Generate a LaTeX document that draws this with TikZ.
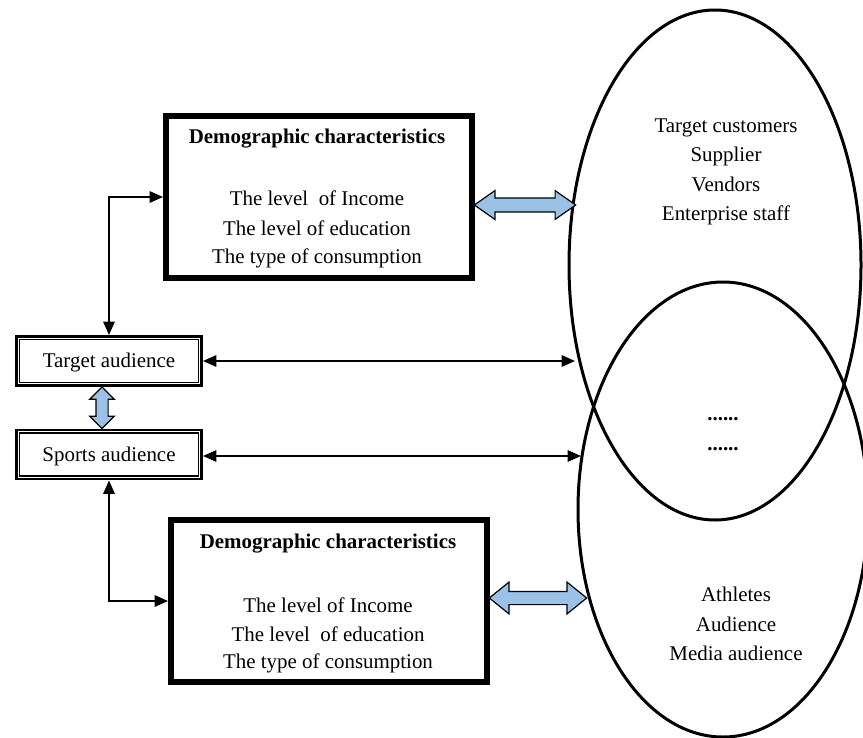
\documentclass[tikz,border=0pt]{standalone}
\usepackage{fontspec}
\setmainfont{Liberation Serif}
\usetikzlibrary{arrows.meta,shapes.geometric,shapes.arrows,calc}
\definecolor{fatblue}{RGB}{155,194,230}
\tikzset{
  txt/.style={inner sep=0pt, font=\fontsize{15.7}{22}\selectfont, align=center},
  thickbox/.style={draw, line width=4.5pt, minimum width=229.5pt, minimum height=121.5pt, inner sep=0pt},
  audbox/.style={draw, line width=2.2pt, minimum width=138.75pt, minimum height=36.75pt, inner sep=0pt,
     font=\fontsize{15.7}{22}\selectfont},
  ell/.style={draw, ellipse, line width=2.25pt, inner sep=0pt},
  conn/.style={line width=1.5pt, {Triangle[length=10pt,width=8.5pt]}-{Triangle[length=10pt,width=8.5pt]}},
  fat/.style={double arrow, draw=black, line width=0.9pt, fill=fatblue, inner sep=0pt, outer sep=0pt}
}
\begin{document}
\begin{tikzpicture}[x=0.75pt,y=-0.75pt]
\useasboundingbox (0,0) rectangle (863,738);
% ellipses
\node[ell, minimum width=219pt, minimum height=382.5pt] (E1) at (715,265) {};
\node[ell, minimum width=217.5pt, minimum height=341.25pt] (E2) at (723,509.5) {};
% boxes
\node[thickbox] (dtop) at (319,197) {};
\node[thickbox, minimum width=237pt] (dbot) at (329,601) {};
\node[audbox] (ta) at (109,361) {};
\node[audbox] (sa) at (109,454.5) {};
\draw[line width=1pt] ([shift={(3.3pt,-3.3pt)}]ta.north west) rectangle ([shift={(-3.3pt,3.3pt)}]ta.south east);
\draw[line width=1pt] ([shift={(3.3pt,-3.3pt)}]sa.north west) rectangle ([shift={(-3.3pt,3.3pt)}]sa.south east);
\node[txt] (tat) at (109,362) {Target audience};
\node[txt] (sat) at (109,456) {Sports audience};
% texts in boxes
\node[txt] (h1) at (317,139) {\textbf{Demographic characteristics}};
\node[txt] (a1) at (317,198) {The level\ \ of Income};
\node[txt] (a2) at (317,228) {The level of education};
\node[txt] (a3) at (317,258) {The type of consumption};
\node[txt] (h2) at (328,544) {\textbf{Demographic characteristics}};
\node[txt] (b1) at (328,605) {The level of Income};
\node[txt] (b2) at (328,634) {The level\ \ of education};
\node[txt] (b3) at (328,663) {The type of consumption};
% ellipse texts
\node[txt] (e1t) at (726,172) {Target customers\\Supplier\\Vendors\\Enterprise staff};
\node[txt] (dots) at (723,434) {\textbf{......}\\\textbf{......}};
\node[txt] (e2t) at (736,624) {Athletes\\Audience\\Media audience};
% connector ends on the ellipses
\coordinate (e1l) at (575,361);
\coordinate (e2l) at (581,456);
\coordinate (e1a) at (575,205);
\coordinate (e2a) at (586,598);
% thin connectors
\draw[conn] (ta.north) |- (dtop.west);
\draw[conn] (sa.south) |- (dbot.west);
\draw[conn] (ta.east) -- (ta.east -| e1l);
\draw[conn] (sa.east |- e2l) -- (e2l);
% fat double arrows
\path (dtop.east |- e1a) -- (e1a) node[fat, midway, minimum height=76pt,
   double arrow head extend=5.6pt, double arrow tip angle=70] (f1) {\rule{0pt}{9.5pt}};
\path (dbot.east |- e2a) -- (e2a) node[fat, midway, minimum height=73pt,
   double arrow head extend=7pt, double arrow tip angle=78] (f2) {\rule{0pt}{9pt}};
\path (ta.south -| 102,0) -- (sa.north -| 102,0) node[fat, midway, sloped, minimum height=31pt,
   double arrow head extend=4.5pt] (f3) {\rule{0pt}{8.25pt}};
\end{tikzpicture}
\end{document}
